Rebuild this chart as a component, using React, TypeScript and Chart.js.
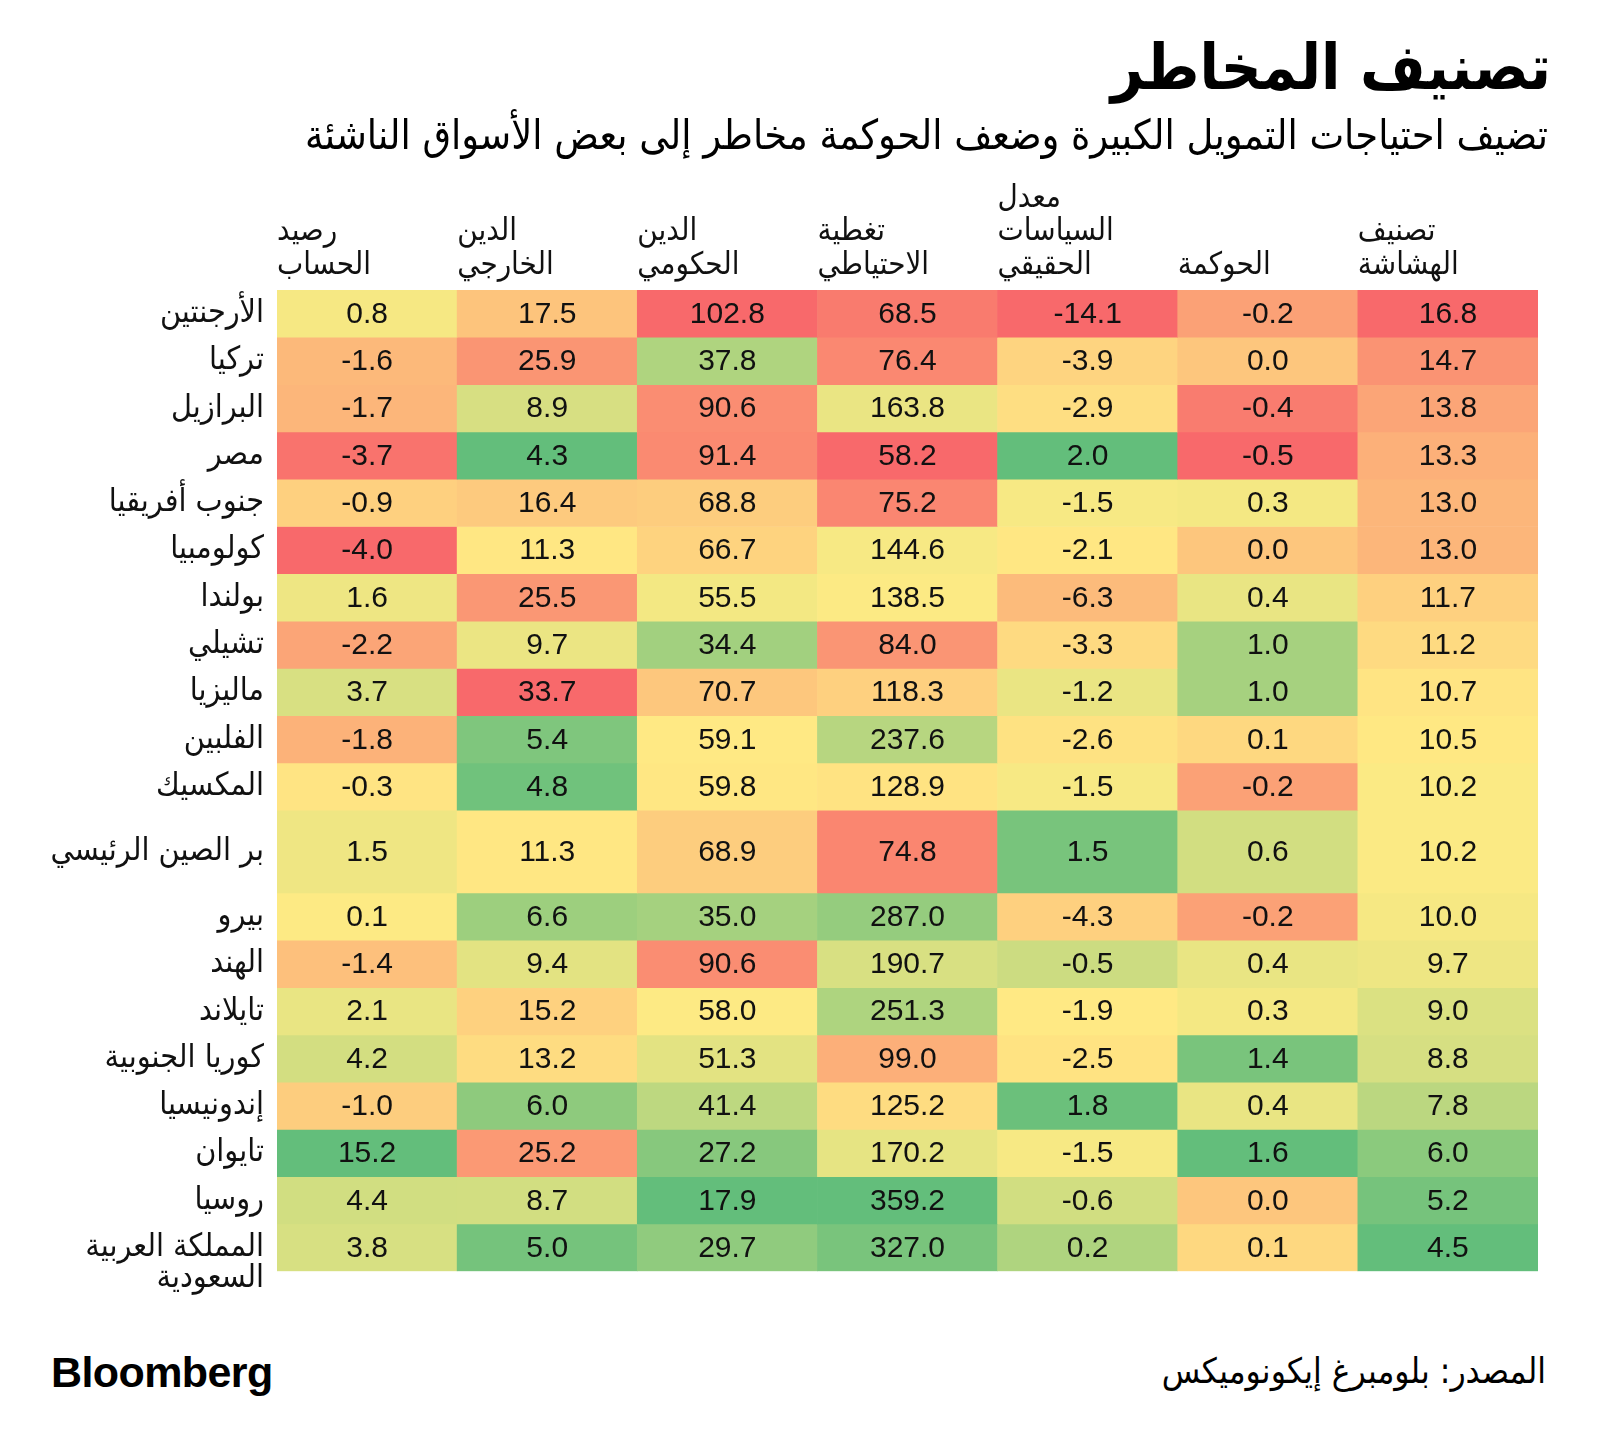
import React, { useEffect, useRef } from 'react';
import { Chart, registerables } from 'chart.js';

Chart.register(...registerables);

// ---------- data ----------
const countries = [
  'الأرجنتين', 'تركيا', 'البرازيل', 'مصر', 'جنوب أفريقيا', 'كولومبيا', 'بولندا', 'تشيلي',
  'ماليزيا', 'الفلبين', 'المكسيك', 'بر الصين الرئيسي', 'بيرو', 'الهند', 'تايلاند',
  'كوريا الجنوبية', 'إندونيسيا', 'تايوان', 'روسيا', 'المملكة العربية السعودية',
];

const headers = [
  ['رصيد', 'الحساب'],
  ['الدين', 'الخارجي'],
  ['الدين', 'الحكومي'],
  ['تغطية', 'الاحتياطي'],
  ['معدل', 'السياسات', 'الحقيقي'],
  ['الحوكمة'],
  ['تصنيف', 'الهشاشة'],
];

const currentAccount = [0.8, -1.6, -1.7, -3.7, -0.9, -4.0, 1.6, -2.2, 3.7, -1.8, -0.3, 1.5, 0.1, -1.4, 2.1, 4.2, -1.0, 15.2, 4.4, 3.8];
const externalDebt = [17.5, 25.9, 8.9, 4.3, 16.4, 11.3, 25.5, 9.7, 33.7, 5.4, 4.8, 11.3, 6.6, 9.4, 15.2, 13.2, 6.0, 25.2, 8.7, 5.0];
const governmentDebt = [102.8, 37.8, 90.6, 91.4, 68.8, 66.7, 55.5, 34.4, 70.7, 59.1, 59.8, 68.9, 35.0, 90.6, 58.0, 51.3, 41.4, 27.2, 17.9, 29.7];
const reserveCoverage = [68.5, 76.4, 163.8, 58.2, 75.2, 144.6, 138.5, 84.0, 118.3, 237.6, 128.9, 74.8, 287.0, 190.7, 251.3, 99.0, 125.2, 170.2, 359.2, 327.0];
const realPolicyRate = [-14.1, -3.9, -2.9, 2.0, -1.5, -2.1, -6.3, -3.3, -1.2, -2.6, -1.5, 1.5, -4.3, -0.5, -1.9, -2.5, 1.8, -1.5, -0.6, 0.2];
const governance = [-0.2, 0.0, -0.4, -0.5, 0.3, 0.0, 0.4, 1.0, 1.0, 0.1, -0.2, 0.6, -0.2, 0.4, 0.3, 1.4, 0.4, 1.6, 0.0, 0.1];
const vulnerability = [16.8, 14.7, 13.8, 13.3, 13.0, 13.0, 11.7, 11.2, 10.7, 10.5, 10.2, 10.2, 10.0, 9.7, 9.0, 8.8, 7.8, 6.0, 5.2, 4.5];

// whether a high value is "good" (green) for each column
const highIsGood = [true, false, false, true, true, true, false];

const columns = [currentAccount, externalDebt, governmentDebt, reserveCoverage, realPolicyRate, governance, vulnerability];

// ---------- layout / style ----------
const TALL_ROW = 'بر الصين الرئيسي';
const TALL_SPAN = 1.75;
// wrapped label: leading blank line keeps the first text line on the row centre
const WRAP_LABELS: Record<string, string[]> = {
  'المملكة العربية السعودية': ['', 'المملكة العربية', 'السعودية'],
};

const W = 1600;
const CANVAS_H = 1300;
const AREA_LEFT = 277;
const AREA_RIGHT = 1538;
const AREA_TOP = 290;
const AREA_BOTTOM = 1282;

const ARABIC = '"DejaVu Sans Condensed", "DejaVu Sans", sans-serif';
const NUM_FONT = '"Liberation Sans", Arial, sans-serif';

const RED = [248, 105, 107];
const YELLOW = [255, 235, 132];
const GREEN = [99, 190, 123];

function lerp(a: number[], b: number[], t: number) {
  return a.map((v, i) => Math.round(v + (b[i] - v) * t));
}

function scaleColors(values: number[], good: boolean) {
  const s = [...values].sort((a, b) => a - b);
  const n = s.length;
  const min = s[0];
  const max = s[n - 1];
  const mid = n % 2 ? s[(n - 1) / 2] : (s[n / 2 - 1] + s[n / 2]) / 2;
  const lo = good ? RED : GREEN;
  const hi = good ? GREEN : RED;
  return values.map((v) => {
    let c;
    if (v <= mid) c = lerp(lo, YELLOW, mid === min ? 1 : (v - min) / (mid - min));
    else c = lerp(YELLOW, hi, max === mid ? 1 : (v - mid) / (max - mid));
    return `rgb(${c[0]},${c[1]},${c[2]})`;
  });
}

export default function App() {
  const canvasRef = useRef<HTMLCanvasElement | null>(null);

  useEffect(() => {
    if (!canvasRef.current) return;
    const spans = countries.map((c) => (c === TALL_ROW ? TALL_SPAN : 1));
    const starts: number[] = [];
    let acc = 0;
    spans.forEach((s) => {
      starts.push(acc);
      acc += s;
    });
    const total = acc;
    const centers = starts.map((s, i) => s + spans[i] / 2);
    const colColors = columns.map((col, i) => scaleColors(col, highIsGood[i]));
    const colWidth = (AREA_RIGHT - AREA_LEFT) / columns.length;

    const datasets = countries.map((c, r) => ({
      label: c,
      data: columns.map(() => [starts[r], starts[r] + spans[r]] as [number, number]),
      backgroundColor: columns.map((_, ci) => colColors[ci][r]),
      borderWidth: 0,
      grouped: false,
      barPercentage: 1,
      categoryPercentage: 1,
    }));

    const valuePlugin = {
      id: 'cellValues',
      afterDatasetsDraw(chart: any) {
        const ctx = chart.ctx;
        ctx.save();
        ctx.font = `30px ${NUM_FONT}`;
        ctx.fillStyle = '#111111';
        ctx.textAlign = 'center';
        ctx.textBaseline = 'middle';
        chart.data.datasets.forEach((_: any, r: number) => {
          const meta = chart.getDatasetMeta(r);
          meta.data.forEach((bar: any, ci: number) => {
            const p = bar.getProps(['x', 'y', 'base'], true);
            ctx.fillText(columns[ci][r].toFixed(1), p.x, (p.y + p.base) / 2 + 1);
          });
        });
        ctx.restore();
      },
    };

    const chart = new Chart(canvasRef.current, {
      type: 'bar',
      data: { labels: headers as any, datasets: datasets as any },
      options: {
        animation: false,
        responsive: true,
        maintainAspectRatio: false,
        layout: {
          padding: { left: 0, top: 0, right: W - AREA_RIGHT, bottom: CANVAS_H - AREA_BOTTOM },
        },
        plugins: {
          legend: { display: false },
          tooltip: { enabled: false },
          title: { display: false },
        },
        scales: {
          x: {
            type: 'category',
            position: 'top',
            offset: true,
            grid: { display: false, drawTicks: false },
            border: { display: false },
            ticks: {
              align: 'start',
              labelOffset: -colWidth / 2,
              padding: 7,
              autoSkip: false,
              maxRotation: 0,
              minRotation: 0,
              color: '#111111',
              font: { family: ARABIC, size: 31, lineHeight: 1.09 },
            },
            afterFit: (s: any) => {
              s.height = AREA_TOP;
            },
          },
          y: {
            type: 'linear',
            reverse: true,
            min: 0,
            max: total,
            grid: { display: false, drawTicks: false },
            border: { display: false },
            afterBuildTicks: (s: any) => {
              s.ticks = centers.map((v) => ({ value: v }));
            },
            ticks: {
              autoSkip: false,
              padding: 13,
              color: '#111111',
              font: { family: ARABIC, size: 32, lineHeight: 0.98 },
              callback: (_v: any, i: number) => WRAP_LABELS[countries[i]] || countries[i],
            },
            afterFit: (s: any) => {
              s.width = AREA_LEFT;
            },
          },
        },
      },
      plugins: [valuePlugin],
    } as any);
    return () => chart.destroy();
  }, []);

  return (
    <div style={{ position: 'absolute', left: 0, top: 0, width: W, height: 1453, background: '#ffffff', overflow: 'hidden' }}>
      <div style={{ position: 'absolute', left: 0, top: 0, width: W, height: CANVAS_H }}>
        <canvas ref={canvasRef} />
      </div>
      <div
        dir="rtl"
        style={{ position: 'absolute', right: 49, top: 27, fontFamily: ARABIC, fontWeight: 'bold', fontSize: 63, lineHeight: '82px', color: '#000', whiteSpace: 'nowrap' }}
      >
        تصنيف المخاطر
      </div>
      <div
        dir="rtl"
        style={{ position: 'absolute', right: 52, top: 108, fontFamily: ARABIC, fontSize: 41, lineHeight: '54px', color: '#000', whiteSpace: 'nowrap' }}
      >
        تضيف احتياجات التمويل الكبيرة وضعف الحوكمة مخاطر إلى بعض الأسواق الناشئة
      </div>
      <div
        dir="rtl"
        style={{ position: 'absolute', right: 54, top: 1348, fontFamily: ARABIC, fontSize: 35, lineHeight: '46px', color: '#000', whiteSpace: 'nowrap' }}
      >
        المصدر: بلومبرغ إيكونوميكس
      </div>
      <div
        style={{ position: 'absolute', left: 51, top: 1346, fontFamily: '"Liberation Sans", Arial, sans-serif', fontWeight: 'bold', fontSize: 43, lineHeight: '52px', letterSpacing: '-0.6px', color: '#000' }}
      >
        Bloomberg
      </div>
    </div>
  );
}
